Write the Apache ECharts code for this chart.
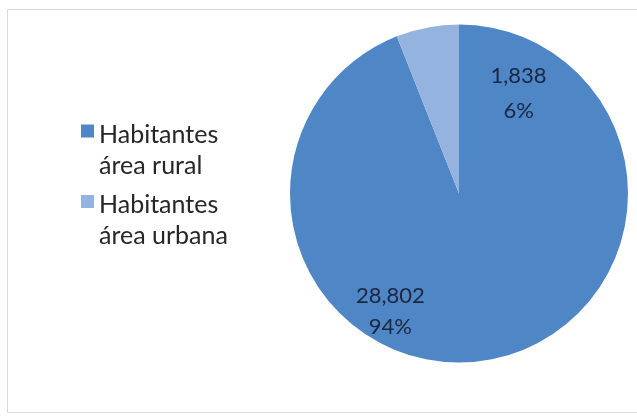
<!DOCTYPE html>
<html>
<head>
<meta charset="utf-8">
<script src="https://cdn.jsdelivr.net/npm/echarts@6/dist/echarts.min.js"></script>
<style>
html,body{margin:0;padding:0;background:#fff;}
#chart{width:637px;height:417px;}
</style>
</head>
<body>
<div id="chart"></div>
<script>
var categories = ['Habitantes\nárea rural', 'Habitantes\nárea urbana'];
var values = [28802, 1838];
var colors = ['#4F86C6', '#95B3DF'];
var labelOffsets = [[-85, 32], [76, -14]];
var labelLineHeights = [31, 35];

var chart = echarts.init(document.getElementById('chart'));
var data = categories.map(function (c, i) {
  return {
    name: c,
    value: values[i],
    itemStyle: { color: colors[i] },
    label: { offset: labelOffsets[i], lineHeight: labelLineHeights[i] }
  };
});
var legendBase = {
  orient: 'vertical',
  left: 76,
  itemWidth: 13,
  itemHeight: 13,
  icon: 'rect',
  selectedMode: false,
  formatter: function (name) {
    return '{s| }\n' + name.split('\n').map(function (l) { return '{t|' + l + '}'; }).join('\n');
  },
  textStyle: {
    fontFamily: 'Lato',
    fontSize: 25,
    color: '#262626',
    rich: {
      s: { fontFamily: 'Lato', fontSize: 25, lineHeight: 38 },
      t: { fontFamily: 'Lato', fontSize: 25, lineHeight: 31, color: '#262626' }
    }
  }
};
chart.setOption({
  animation: false,
  graphic: [{
    type: 'rect',
    shape: { x: 7.5, y: 9.5, width: 640, height: 403 },
    style: { fill: 'none', stroke: '#D9D9D9', lineWidth: 1 },
    silent: true
  }],
  legend: [
    Object.assign({}, legendBase, { top: 82.5, data: [categories[0]] }),
    Object.assign({}, legendBase, { top: 153, data: [categories[1]] })
  ],
  series: [{
    type: 'pie',
    center: [459, 193.5],
    radius: 169,
    startAngle: 90,
    clockwise: true,
    data: data,
    label: {
      show: true,
      position: 'inside',
      fontFamily: 'Lato',
      fontSize: 22,
      lineHeight: 31,
      color: '#1B2740',
      formatter: function (p) {
        return p.value.toLocaleString('en-US') + '\n' + Math.round(p.percent) + '%';
      }
    },
    labelLine: { show: false },
    emphasis: { disabled: true }
  }]
});
</script>
</body>
</html>
